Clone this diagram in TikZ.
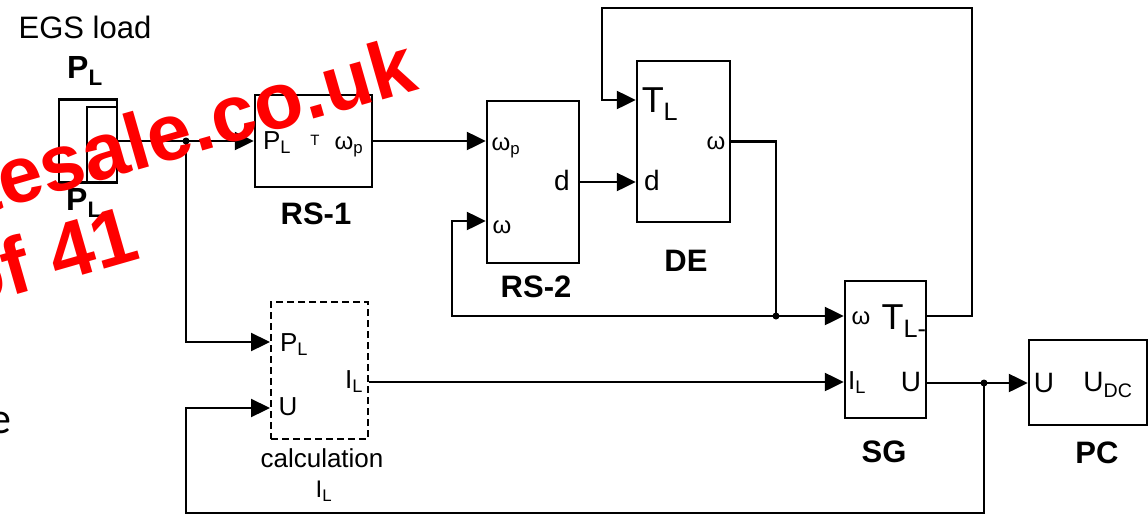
\documentclass[tikz,border=0pt]{standalone}
\usepackage{fontspec}
\setmainfont{Liberation Sans}
\newfontfamily\carlitofont{Carlito}
\usetikzlibrary{arrows.meta}
\begin{document}
\begin{tikzpicture}[x=1pt,y=-1pt,
  blk/.style={draw, line width=2.4pt, inner sep=0pt},
  dblk/.style={draw, line width=2pt, dash pattern=on 7pt off 4pt, inner sep=0pt},
  wire/.style={line width=2.3pt},
  conn/.style={line width=2.3pt, -{Triangle[length=19pt,width=18pt]}},
  dot/.style={circle, fill, inner sep=0pt, minimum size=7pt},
  txt/.style={inner sep=0pt, font=\fontsize{#1}{#1}\selectfont},
  bname/.style={inner sep=0pt, font=\bfseries\fontsize{31}{31}\selectfont},
  wm/.style={inner sep=0pt, text=red, font=\bfseries\fontsize{80}{80}\selectfont, anchor=base east, rotate=16}]
\useasboundingbox (0,0) rectangle (1148,517);

% blocks
\node[blk, minimum width=58pt, minimum height=83pt] (egs) at (88,141) {};
\node[blk, minimum width=30pt, minimum height=76pt] (egsin) at (102,145) {};
\node[blk, minimum width=117pt, minimum height=92pt] (rs1) at (313.5,141) {};
\node[blk, minimum width=92pt, minimum height=162pt] (rs2) at (533,182) {};
\node[blk, minimum width=93pt, minimum height=161pt] (de) at (683.5,141.5) {};
\node[blk, minimum width=81pt, minimum height=137pt] (sg) at (885.5,349.5) {};
\node[blk, minimum width=118pt, minimum height=85pt] (pc) at (1088,382.5) {};
\node[dblk, minimum width=97pt, minimum height=137pt] (calc) at (319.5,370.5) {};

% junction dots
\node[dot] (d1) at (186,141) {};
\node[dot] (j1) at (776,316) {};
\node[dot] (j2) at (984,383) {};

% connectors
\draw[conn] (egs.east) -- (rs1.west);
\draw[conn] (d1.center) -- (186,342) -- (calc.west |- 0,342);
\draw[conn] (rs1.east) -- (rs2.west |- rs1.east);
\draw[conn] (rs2.east) -- (de.west |- rs2.east);
\draw[wire] (de.east) -| (j1.center);
\draw[conn] (j1.center) -- (sg.west |- j1.center);
\draw[conn] (j1.center) -- (452,316) -- (452,221) -- (rs2.west |- 0,221);
\draw[conn] (sg.east |- 0,316) -- (972,316) -- (972,8) -- (602,8) -- (602,100) -- (de.west |- 0,100);
\draw[conn] (calc.east |- 0,382) -- (sg.west |- 0,382);
\draw[wire] (sg.east |- j2.center) -- (j2.center);
\draw[conn] (j2.center) -- (pc.west |- j2.center);
\draw[conn] (j2.center) -- (984,513) -- (186,513) -- (186,408) -- (calc.west |- 0,408);
\draw[wire] (pc.east |- j2.center) -- (1150,383);

% texts
\node[txt=31] (t1) at (85,27) {EGS load};
\node[inner sep=0pt, font=\bfseries\fontsize{32}{32}\selectfont] (t2) at (85,71) {P\textsubscript{L}};
\node[inner sep=0pt, font=\bfseries\fontsize{32}{32}\selectfont] (t3) at (84,203) {P\textsubscript{L}};

\node[txt=26] (t4) at (277,143) {P\textsubscript{L}};
\node[txt=15] (t5) at (315,140) {T};
\node[txt=24] (t6) at (349,147) {ω\textsubscript{p}};
\node[bname] (t7) at (316,214) {RS-1};

\node[txt=24] (t8) at (506,148) {ω\textsubscript{p}};
\node[txt=28] (t9) at (562,180) {d};
\node[txt=24] (t10) at (502,227) {ω};
\node[bname] (t11) at (536,287) {RS-2};

\node[txt=36] (t12) at (660,104) {T\textsubscript{L}};
\node[txt=28] (t13) at (652,180) {d};
\node[txt=24] (t14) at (716,143) {ω};
\node[bname] (t15) at (686,261) {DE};

\node[txt=24] (t16) at (861,318) {ω};
\node[txt=36] (t17) at (904,321) {T\textsubscript{L-}};
\node[txt=26] (t18) at (857,383) {I\textsubscript{L}};
\node[txt=28] (t19) at (911,382) {U};
\node[bname] (t20) at (884,452) {SG};

\node[txt=28] (t21) at (1044,383) {U};
\node[txt=28] (t22) at (1108,385) {U\textsubscript{DC}};
\node[bname] (t23) at (1097,453) {PC};

\node[txt=26] (t24) at (294,345) {P\textsubscript{L}};
\node[txt=26] (t25) at (288,407) {U};
\node[txt=26] (t26) at (354,382) {I\textsubscript{L}};
\node[txt=26] (t27) at (322,458) {calculation};
\node[txt=24] (t28) at (324,491) {I\textsubscript{L}};

\node[inner sep=0pt, anchor=base west, font=\carlitofont\fontsize{44}{44}\selectfont] (t29) at (-11,433) {e};

% watermark
\begin{scope}
\clip (0,0) rectangle (1148,517);
\node[wm] (wm1) at (420,89) {Notesale.co.uk};
\node[wm] (wm2) at (143,258) {of 41};
\end{scope}
\end{tikzpicture}
\end{document}
